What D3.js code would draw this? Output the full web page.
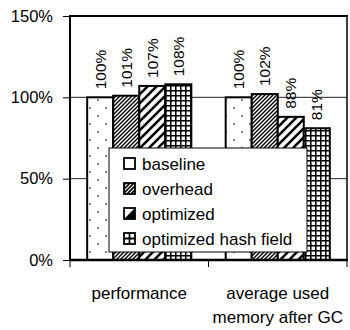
<!DOCTYPE html>
<html><head><meta charset="utf-8">
<script src="https://cdn.jsdelivr.net/npm/d3@7"></script>
<style>
html,body{margin:0;padding:0;background:#fff;}
svg{display:block;font-family:"Liberation Sans",Arial,sans-serif;}
</style></head>
<body>
<svg id="c" width="350" height="330"></svg>
<script>
const categories = ["performance", "average used\nmemory after GC"];
const seriesNames = ["baseline", "overhead", "optimized", "optimized hash field"];
const baselineVals = [1.00, 1.00];
const overheadVals = [1.01, 1.02];
const optimizedVals = [1.07, 0.88];
const hashVals = [1.08, 0.81];
const yTicks = [0, 0.5, 1.0, 1.5];

(function () {
const seriesVals = [baselineVals, overheadVals, optimizedVals, hashVals];
const patIds = ["pDots", "pDense", "pWide", "pGrid"];
const legPatIds = ["lWhite", "lDense", "lHalf", "lGrid"];

const svg = d3.select("#c");
const mLeft = 70, mRight = 347, mTop = 16, mBottom = 260;

// patterns
const defs = svg.append("defs");
let p = defs.append("pattern").attr("id","pDots").attr("patternUnits","userSpaceOnUse")
  .attr("width",16).attr("height",16).attr("x",-2).attr("y",0);
p.append("rect").attr("width",16).attr("height",16).attr("fill","#fff");
p.append("circle").attr("cx",4).attr("cy",4).attr("r",1).attr("fill","#555");
p.append("circle").attr("cx",12).attr("cy",12).attr("r",1).attr("fill","#555");

p = defs.append("pattern").attr("id","pDense").attr("patternUnits","userSpaceOnUse")
  .attr("width",4).attr("height",4);
p.append("rect").attr("width",4).attr("height",4).attr("fill","#fff");
p.append("path").attr("d","M-1,1 l2,-2 M0,4 l4,-4 M3,5 l2,-2").attr("stroke","#000").attr("stroke-width",1.4);

p = defs.append("pattern").attr("id","pWide").attr("patternUnits","userSpaceOnUse")
  .attr("width",9).attr("height",9);
p.append("rect").attr("width",9).attr("height",9).attr("fill","#fff");
p.append("path").attr("d","M-2,2 l4,-4 M0,9 l9,-9 M7,11 l4,-4").attr("stroke","#000").attr("stroke-width",2.6);

p = defs.append("pattern").attr("id","pGrid").attr("patternUnits","userSpaceOnUse")
  .attr("width",5).attr("height",5);
p.append("rect").attr("width",5).attr("height",5).attr("fill","#fff");
p.append("path").attr("d","M0,0.75 H5 M0.75,0 V5").attr("stroke","#000").attr("stroke-width",1.6);

// legend swatch patterns (object bounding box)
p = defs.append("pattern").attr("id","lWhite").attr("patternContentUnits","objectBoundingBox").attr("width",1).attr("height",1);
p.append("rect").attr("width",1).attr("height",1).attr("fill","#fff");
p = defs.append("pattern").attr("id","lDense").attr("patternUnits","userSpaceOnUse").attr("width",4).attr("height",4);
p.append("rect").attr("width",4).attr("height",4).attr("fill","#fff");
p.append("path").attr("d","M-1,1 l2,-2 M0,4 l4,-4 M3,5 l2,-2").attr("stroke","#000").attr("stroke-width",1.6);
p = defs.append("pattern").attr("id","lHalf").attr("patternContentUnits","objectBoundingBox").attr("width",1).attr("height",1);
p.append("rect").attr("width",1).attr("height",1).attr("fill","#fff");
p.append("path").attr("d","M1,0 L1,1 L0,1 Z").attr("fill","#000");
p = defs.append("pattern").attr("id","lGrid").attr("patternContentUnits","objectBoundingBox").attr("width",1).attr("height",1);
p.append("rect").attr("width",1).attr("height",1).attr("fill","#fff");
p.append("path").attr("d","M0,0.5 H1 M0.5,0 V1").attr("stroke","#000").attr("stroke-width",0.16);

const x0 = d3.scaleBand().domain(categories).range([mLeft, mRight]).padding(0);
const x1 = d3.scaleBand().domain(seriesNames).range([0, x0.bandwidth()]).paddingOuter(0.66).paddingInner(0);
const y = d3.scaleLinear().domain([0, 1.5]).range([mBottom, mTop]);

// gridlines
svg.append("g").selectAll("line").data(yTicks.filter(t => t > 0 && t < 1.5)).join("line")
  .attr("x1", mLeft).attr("x2", mRight).attr("y1", d => y(d)).attr("y2", d => y(d))
  .attr("stroke","#222").attr("stroke-width",1);

// plot border top/right
svg.append("line").attr("x1",mLeft).attr("x2",mRight+1).attr("y1",y(1.5)).attr("y2",y(1.5)).attr("stroke","#000").attr("stroke-width",2);
svg.append("line").attr("x1",mRight).attr("x2",mRight).attr("y1",y(1.5)).attr("y2",mBottom).attr("stroke","#000").attr("stroke-width",1.5);

// bars
const data = [];
categories.forEach((c, ci) => seriesNames.forEach((s, si) => data.push({c, s, si, v: seriesVals[si][ci]})));
svg.append("g").selectAll("rect").data(data).join("rect")
  .attr("x", d => x0(d.c) + x1(d.s))
  .attr("y", d => y(d.v))
  .attr("width", x1.bandwidth())
  .attr("height", d => mBottom - y(d.v))
  .attr("fill", d => `url(#${patIds[d.si]})`)
  .attr("stroke","#000").attr("stroke-width",2);

// value labels
svg.append("g").selectAll("text").data(data).join("text")
  .attr("transform", d => `translate(${x0(d.c) + x1(d.s) + x1.bandwidth()/2},${y(d.v) - 8}) rotate(-90)`)
  .attr("dy","0.36em").attr("font-size",15.5).attr("text-anchor","start")
  .text(d => d3.format(".0%")(d.v));

// y axis
const yAxis = svg.append("g").attr("transform",`translate(${mLeft},0)`)
  .call(d3.axisLeft(y).tickValues(yTicks).tickFormat(d3.format(".0%")).tickSize(7).tickPadding(10));
yAxis.select(".domain").remove();
yAxis.selectAll(".tick line").attr("stroke","#000").attr("stroke-width",1);
yAxis.selectAll("text").attr("font-size",16.5).attr("font-family","Liberation Sans, Arial, sans-serif").attr("fill","#000");
svg.append("line").attr("x1",mLeft).attr("x2",mLeft).attr("y1",y(1.5)-1).attr("y2",mBottom).attr("stroke","#000").attr("stroke-width",2);

// x axis
const xTickPos = [mLeft, mLeft + x0.step(), mRight];
svg.append("g").selectAll("line").data(xTickPos).join("line")
  .attr("x1", d => d).attr("x2", d => d).attr("y1", mBottom).attr("y2", mBottom + 7)
  .attr("stroke","#000").attr("stroke-width",1);
svg.append("line").attr("x1",mLeft).attr("x2",mRight+1).attr("y1",mBottom).attr("y2",mBottom).attr("stroke","#000").attr("stroke-width",2.5);

// category labels
const catG = svg.append("g");
categories.forEach(c => {
  const lines = c.split("\n");
  const t = catG.append("text").attr("x", x0(c) + x0.bandwidth()/2).attr("y", 299)
    .attr("text-anchor","middle").attr("font-size",17);
  lines.forEach((l, i) => t.append("tspan").attr("x", x0(c) + x0.bandwidth()/2).attr("dy", i ? 24 : 0).text(l));
});

// legend
const lg = svg.append("g").attr("transform","translate(109,148)");
lg.append("rect").attr("width",198).attr("height",104).attr("fill","#fff").attr("stroke","#000").attr("stroke-width",1);
seriesNames.forEach((s, i) => {
  const g = lg.append("g").attr("transform",`translate(15,${16 + i*25})`);
  g.append("rect").attr("x",0).attr("y",-6).attr("width",11).attr("height",11)
    .attr("fill",`url(#${legPatIds[i]})`).attr("stroke","#000").attr("stroke-width",1.8);
  g.append("text").attr("x",18).attr("y",0).attr("dy","0.35em").attr("font-size",17).text(s);
});
})();
</script>
</body></html>
